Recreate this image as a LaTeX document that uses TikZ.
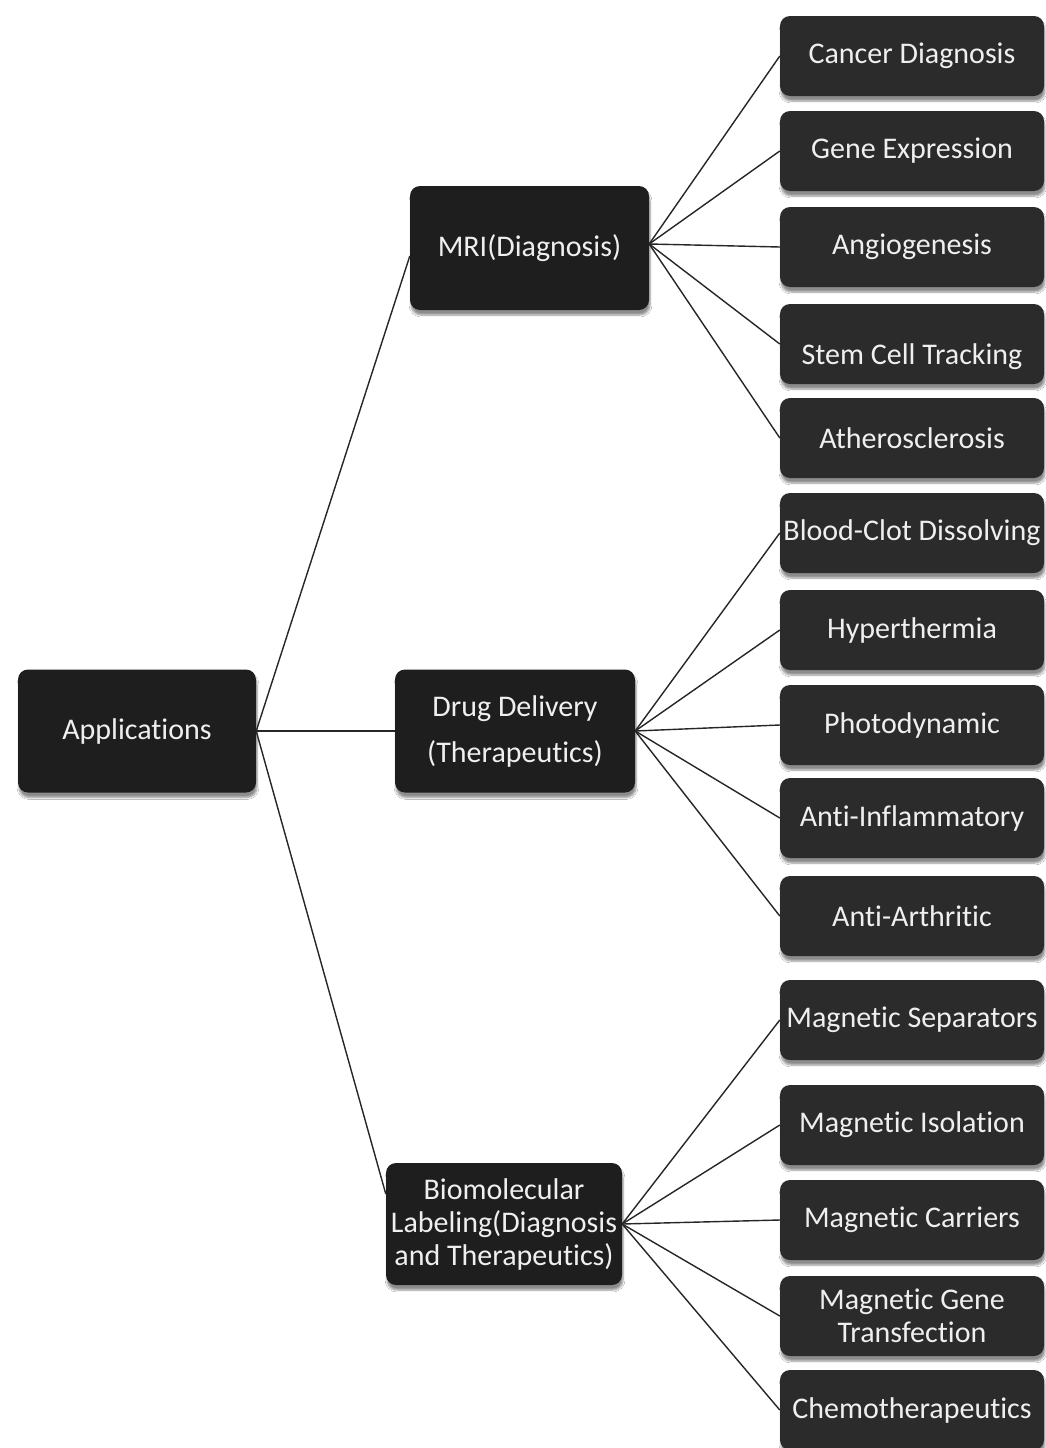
\documentclass[tikz,border=0pt]{standalone}
\usepackage{fontspec}
\setmainfont{Carlito}[Ligatures={NoCommon,NoContextual}, Contextuals=NoAlternate]
\usetikzlibrary{shadows.blur}
\definecolor{boxdark}{HTML}{1E1E1E}
\definecolor{boxleaf}{HTML}{2B2B2B}
\definecolor{txt}{HTML}{EFEFEF}
\begin{document}
\begin{tikzpicture}[x=1pt,y=-1pt,
  box/.style={draw=none, fill=boxdark, rounded corners=10pt, text=txt, align=center,
    font=\fontsize{30}{33}\selectfont, inner sep=1pt,
    blur shadow={shadow xshift=1pt, shadow yshift=-5pt, shadow opacity=45, shadow blur steps=6}},
  mainbox/.style={box, minimum width=238pt, minimum height=123pt},
  leaf/.style={box, fill=boxleaf, minimum width=264pt, minimum height=80pt},
  link/.style={draw=black!85, line width=1.4pt}]
\useasboundingbox[fill=white] (0,0) rectangle (1046,1448);

% main column
\node[mainbox] (app) at (137,731) {Applications};
\node[mainbox, minimum width=239pt, minimum height=124pt] (mri) at (529.5,248) {MRI(Diagnosis)};
\node[mainbox, minimum width=240pt] (drug) at (515,731) {Drug Delivery\\[13pt](Therapeutics)};
\node[mainbox, minimum width=236pt, minimum height=122pt] (bio) at (504,1224) {Biomolecular\\Labeling(Diagnosis\\and Therapeutics)};

% leaves
\node[leaf] (l1) at (912,56) {Cancer Diagnosis};
\node[leaf] (l2) at (912,151) {Gene Expression};
\node[leaf] (l3) at (912,247) {Angiogenesis};
\node[leaf, text height=47pt, text depth=7pt] (l4) at (912,344) {Stem Cell Tracking};
\node[leaf] (l5) at (912,438) {Atherosclerosis};
\node[leaf] (l6) at (912,533) {Blood-Clot Dissolving};
\node[leaf] (l7) at (912,630) {Hyperthermia};
\node[leaf] (l8) at (912,725) {Photodynamic};
\node[leaf] (l9) at (912,818) {Anti-Inflammatory};
\node[leaf] (l10) at (912,916) {Anti-Arthritic};
\node[leaf] (l11) at (912,1020) {Magnetic Separators};
\node[leaf] (l12) at (912,1125) {Magnetic Isolation};
\node[leaf] (l13) at (912,1220) {Magnetic Carriers};
\node[leaf] (l14) at (912,1316) {Magnetic Gene\\Transfection};
\node[leaf] (l15) at (912,1410) {Chemotherapeutics};

% connectors
\draw[link] (app.east) -- ([yshift=-8pt]mri.west);
\draw[link] (app.east) -- (drug.west);
\draw[link] (app.east) -- ([yshift=30pt]bio.west);

\foreach \n in {l1,l2,l3,l4,l5} \draw[link] ([yshift=4pt]mri.east) -- (\n.west);
\foreach \n in {l6,l7,l8,l9,l10} \draw[link] (drug.east) -- (\n.west);
\foreach \n in {l11,l12,l13,l14,l15} \draw[link] (bio.east) -- (\n.west);
\end{tikzpicture}
\end{document}
